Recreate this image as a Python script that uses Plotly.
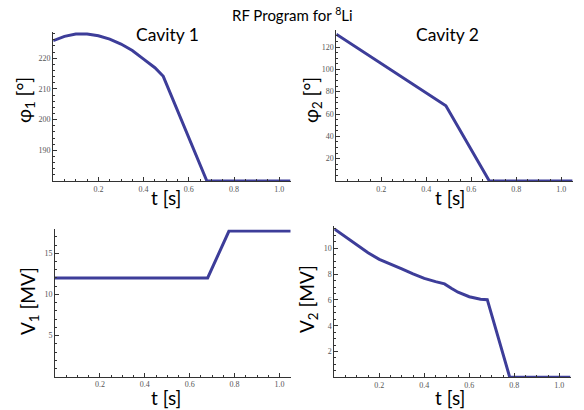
import plotly.graph_objects as go

# ---------------- data ----------------
t_phi1 = [0.0, 0.05, 0.10, 0.15, 0.20, 0.25, 0.30, 0.35, 0.40, 0.45, 0.487, 0.68, 1.05]
phi1 = [225.7, 227.1, 227.9, 227.9, 227.3, 226.2, 224.6, 222.5, 219.7, 216.9, 214.1, 180.0, 180.0]

t_phi2 = [0.0, 0.487, 0.68, 1.05]
phi2 = [131.5, 67.3, 0.0, 0.0]

t_v1 = [0.0, 0.68, 0.775, 1.05]
v1 = [12.0, 12.0, 17.7, 17.7]

t_v2 = [0.0, 0.05, 0.10, 0.15, 0.20, 0.25, 0.30, 0.35, 0.40, 0.45, 0.49, 0.52, 0.55, 0.60, 0.65, 0.68, 0.78, 1.05]
v2 = [11.5, 10.88, 10.3, 9.65, 9.15, 8.75, 8.4, 8.02, 7.67, 7.42, 7.24, 6.9, 6.6, 6.25, 6.06, 6.02, 0.0, 0.0]

x_ticks = [0.2, 0.4, 0.6, 0.8, 1.0]
x_ticktext = ["0.2", "0.4", "0.6", "0.8", "1.0"]
phi1_ticks = [190, 200, 210, 220]
phi2_ticks = [20, 40, 60, 80, 100, 120]
v1_ticks = [5, 10, 15]
v2_ticks = [2, 4, 6, 8, 10]

LINE = "#3d3d99"
W, H = 584, 410

fig = go.Figure()
fig.add_trace(go.Scatter(x=t_phi1, y=phi1, mode="lines", line=dict(color=LINE, width=3), xaxis="x", yaxis="y"))
fig.add_trace(go.Scatter(x=t_phi2, y=phi2, mode="lines", line=dict(color=LINE, width=3), xaxis="x2", yaxis="y2"))
fig.add_trace(go.Scatter(x=t_v1, y=v1, mode="lines", line=dict(color=LINE, width=3), xaxis="x3", yaxis="y3"))
fig.add_trace(go.Scatter(x=t_v2, y=v2, mode="lines", line=dict(color=LINE, width=3), xaxis="x4", yaxis="y4"))

tickfont = dict(family="Liberation Serif", size=8, color="#555")


def xax(domain, anchor):
    return dict(domain=domain, anchor=anchor, range=[0, 1.05], showgrid=False, zeroline=False,
                showline=True, linecolor="#333", linewidth=1, ticks="inside", ticklen=4,
                tickcolor="#333", tickmode="array", tickvals=x_ticks, ticktext=x_ticktext,
                tickfont=tickfont, automargin=False,
                minor=dict(tickmode="linear", tick0=0, dtick=0.05, ticks="inside",
                           ticklen=2, tickcolor="#333"))


def yax(domain, anchor, rng, vals, minor):
    return dict(domain=domain, anchor=anchor, range=rng, showgrid=False, zeroline=False,
                showline=True, linecolor="#333", linewidth=1, ticks="inside", ticklen=4,
                tickcolor="#333", tickmode="array", tickvals=vals, ticktext=[str(v) for v in vals],
                tickfont=tickfont, automargin=False,
                minor=dict(tickmode="linear", tick0=0, dtick=minor, ticks="inside",
                           ticklen=2, tickcolor="#333"))


def px(x):
    return x / W


def py(y):
    return 1 - y / H


fig.update_layout(
    width=W, height=H, margin=dict(l=0, r=0, t=0, b=0),
    paper_bgcolor="white", plot_bgcolor="white", showlegend=False,
    xaxis=xax([px(53.2), px(290.5)], "y"),
    yaxis=yax([py(181), py(32.1)], "x", [180, 228.5], phi1_ticks, 2),
    xaxis2=xax([px(336.3), px(572.6)], "y2"),
    yaxis2=yax([py(181), py(29.7)], "x2", [0, 135.5], phi2_ticks, 5),
    xaxis3=xax([px(55), px(290.7)], "y3"),
    yaxis3=yax([py(376.7), py(229.4)], "x3", [0, 17.9], v1_ticks, 1),
    xaxis4=xax([px(334.3), px(570.5)], "y4"),
    yaxis4=yax([py(377.3), py(226.4)], "x4", [0, 11.7], v2_ticks, 0.5),
)

FONT = "Lato"


def ann(text, x, y, size, angle=0):
    fig.add_annotation(text=text, x=px(x), y=py(y), xref="paper", yref="paper", showarrow=False,
                       xanchor="center", yanchor="middle", textangle=angle,
                       font=dict(family=FONT, size=size, color="black"))


ann("RF Program for <sup>8</sup>Li", 292, 14, 15)
ann("Cavity 1", 167, 35, 17.5)
ann("Cavity 2", 447, 35, 17.5)
ann("t [s]", 166, 197, 19)
ann("t [s]", 450, 197, 19)
ann("t [s]", 166, 397, 19)
ann("t [s]", 450, 397, 19)
ann("φ<sub>1</sub> [°]", 25, 100, 19, -90)
ann("φ<sub>2</sub> [°]", 312, 100, 19, -90)
ann("V<sub>1</sub> [MV]", 29, 301, 19, -90)
ann("V<sub>2</sub> [MV]", 308, 299, 19, -90)

fig.write_html(
    "out.html",
    config={"displayModeBar": False},
    post_script="document.body.style.margin='0';document.body.style.padding='0';"
                "document.body.style.overflow='hidden';",
)
